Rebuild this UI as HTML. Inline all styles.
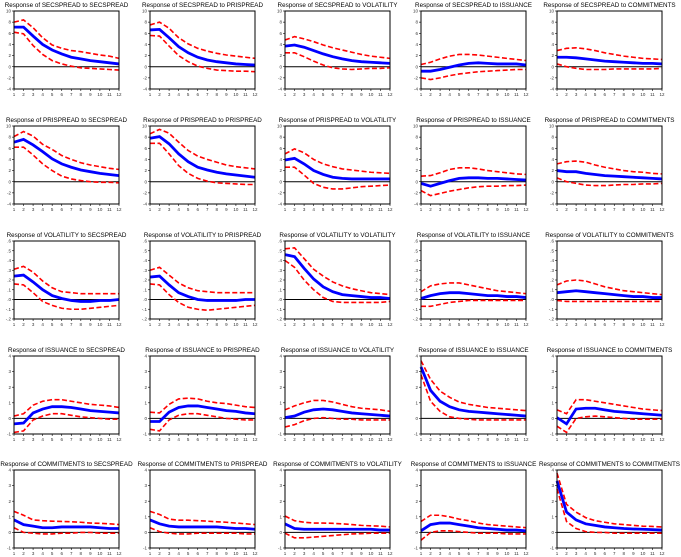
<!DOCTYPE html>
<html><head><meta charset="utf-8"><style>
html,body{margin:0;padding:0;background:#fff;}
svg{display:block;font-family:"Liberation Sans",sans-serif;}
</style></head><body>
<svg id="chart" width="681" height="557" viewBox="0 0 681 557"></svg>
<script>
const varNames = ["SECSPREAD","PRISPREAD","VOLATILITY","ISSUANCE","COMMITMENTS"];
const periods = [1,2,3,4,5,6,7,8,9,10,11,12];
const rowTicks = [
  [-4,-2,0,2,4,6,8,10],
  [-4,-2,0,2,4,6,8,10],
  [-.2,-.1,0,.1,.2,.3,.4,.5,.6],
  [-1,0,1,2,3,4],
  [-1,0,1,2,3,4]
];
const rowTickLabels = [
  ["-4","-2","0","2","4","6","8","10"],
  ["-4","-2","0","2","4","6","8","10"],
  ["-.2","-.1",".0",".1",".2",".3",".4",".5",".6"],
  ["-1","0","1","2","3","4"],
  ["-1","0","1","2","3","4"]
];
const resp = [
 [[7.1,7.1,5.5,4.0,3.0,2.3,1.7,1.4,1.1,0.9,0.7,0.5],[6.6,6.7,5.2,3.6,2.5,1.7,1.2,0.9,0.7,0.5,0.4,0.3],[3.7,3.9,3.5,2.9,2.3,1.8,1.4,1.1,0.9,0.8,0.7,0.6],[-0.8,-0.8,-0.5,-0.1,0.3,0.6,0.7,0.6,0.5,0.5,0.5,0.3],[1.7,1.7,1.6,1.4,1.2,1.0,0.9,0.8,0.7,0.6,0.6,0.5]],
 [[7.1,7.6,6.6,5.4,4.1,3.2,2.6,2.1,1.8,1.5,1.3,1.1],[7.8,8.1,6.8,5.0,3.6,2.6,2.1,1.7,1.4,1.2,1.0,0.8],[3.9,4.2,3.2,2.0,1.3,0.8,0.6,0.5,0.5,0.5,0.5,0.5],[-0.3,-0.8,-0.3,0.2,0.6,0.7,0.7,0.6,0.6,0.5,0.4,0.3],[2.0,1.8,1.8,1.5,1.3,1.1,1.0,0.9,0.8,0.7,0.6,0.5]],
 [[.24,.25,.18,.10,.04,.01,-.01,-.02,-.02,-.01,-.01,0],[.23,.24,.15,.07,.03,.00,-.01,-.01,-.01,-.01,0,0],[.46,.44,.32,.21,.13,.08,.05,.04,.03,.02,.02,.01],[.01,.04,.06,.07,.07,.06,.05,.04,.04,.03,.03,.02],[.07,.08,.09,.08,.07,.06,.05,.04,.03,.03,.02,.02]],
 [[-0.35,-0.3,0.35,0.6,0.75,0.75,0.7,0.6,0.5,0.45,0.4,0.35],[-0.2,-0.2,0.4,0.7,0.8,0.8,0.7,0.6,0.5,0.45,0.35,0.3],[0.05,0.15,0.4,0.55,0.6,0.55,0.45,0.35,0.3,0.25,0.2,0.15],[3.3,1.8,1.1,0.75,0.55,0.45,0.4,0.35,0.3,0.25,0.2,0.15],[0.05,-0.35,0.6,0.65,0.65,0.55,0.45,0.4,0.35,0.3,0.25,0.2]],
 [[0.8,0.5,0.4,0.3,0.3,0.35,0.35,0.35,0.35,0.3,0.25,0.25],[0.8,0.55,0.4,0.35,0.35,0.35,0.35,0.35,0.3,0.25,0.25,0.2],[0.55,0.25,0.2,0.2,0.2,0.2,0.2,0.2,0.2,0.2,0.15,0.15],[0.1,0.5,0.6,0.6,0.5,0.4,0.3,0.25,0.2,0.15,0.15,0.1],[3.3,1.3,0.8,0.55,0.45,0.35,0.3,0.25,0.22,0.2,0.18,0.15]]
];
const upper = [
 [[8.0,8.4,7.0,5.2,3.9,3.3,2.9,2.7,2.4,2.1,1.9,1.5],[7.5,8.0,6.9,5.2,4.1,3.3,2.8,2.4,2.1,1.9,1.7,1.5],[4.8,5.4,5.0,4.5,3.9,3.4,3.0,2.6,2.2,1.9,1.7,1.5],[0.4,0.8,1.4,1.9,2.2,2.2,2.1,1.9,1.7,1.5,1.3,1.1],[2.9,3.3,3.4,3.2,2.9,2.5,2.2,1.9,1.7,1.5,1.4,1.3]],
 [[8.1,9.0,8.2,6.7,5.8,4.7,4.0,3.4,3.0,2.7,2.4,2.2],[8.6,9.4,8.7,7.1,5.6,4.6,4.0,3.5,3.0,2.7,2.5,2.3],[5.0,5.9,5.2,4.0,3.2,2.7,2.3,2.1,1.9,1.7,1.6,1.5],[1.0,1.1,1.6,2.2,2.5,2.5,2.3,2.0,1.8,1.6,1.4,1.3],[3.2,3.6,3.7,3.5,3.0,2.6,2.3,2.0,1.8,1.7,1.5,1.4]],
 [[.31,.34,.28,.19,.12,.08,.07,.06,.06,.06,.06,.06],[.30,.33,.25,.17,.12,.09,.08,.07,.07,.07,.07,.07],[.52,.53,.42,.31,.24,.18,.14,.11,.09,.07,.06,.05],[.08,.14,.16,.17,.17,.15,.13,.11,.09,.08,.07,.06],[.15,.19,.20,.19,.16,.13,.11,.09,.08,.07,.06,.05]],
 [[0.15,0.3,0.85,1.1,1.2,1.2,1.1,1.0,0.9,0.85,0.8,0.7],[0.4,0.35,0.9,1.25,1.3,1.25,1.1,1.0,0.95,0.85,0.75,0.7],[0.55,0.8,1.0,1.15,1.15,1.05,0.9,0.75,0.65,0.6,0.55,0.45],[3.7,2.5,1.75,1.35,1.05,0.9,0.8,0.7,0.65,0.6,0.55,0.5],[0.55,0.3,1.2,1.2,1.1,1.0,0.9,0.8,0.7,0.6,0.55,0.5]],
 [[1.35,1.1,0.8,0.75,0.72,0.7,0.68,0.65,0.6,0.58,0.55,0.5],[1.35,1.15,0.85,0.78,0.78,0.75,0.72,0.68,0.65,0.6,0.55,0.5],[1.05,0.75,0.65,0.6,0.6,0.58,0.55,0.5,0.45,0.42,0.4,0.35],[0.7,1.1,1.1,1.0,0.85,0.75,0.6,0.5,0.45,0.4,0.35,0.3],[3.8,1.8,1.3,0.95,0.75,0.65,0.55,0.5,0.45,0.4,0.38,0.35]]
];
const lower = [
 [[6.2,5.9,3.8,2.2,1.1,0.5,0.1,-0.2,-0.3,-0.4,-0.5,-0.6],[5.6,5.5,3.7,2.0,0.9,0.1,-0.3,-0.6,-0.7,-0.8,-0.8,-0.9],[2.5,2.5,1.8,1.0,0.3,-0.2,-0.4,-0.5,-0.4,-0.3,-0.3,-0.2],[-2.0,-2.3,-2.0,-1.6,-1.3,-1.1,-0.9,-0.8,-0.7,-0.6,-0.5,-0.5],[0.5,0.0,-0.3,-0.5,-0.5,-0.5,-0.4,-0.4,-0.4,-0.4,-0.4,-0.3]],
 [[6.2,6.2,4.8,3.2,2.0,1.0,0.5,0.2,0.0,-0.1,-0.1,-0.2],[6.9,6.9,5.0,2.9,1.5,0.6,0.1,-0.2,-0.3,-0.4,-0.5,-0.5],[2.6,2.6,1.2,-0.3,-1.0,-1.3,-1.3,-1.1,-0.9,-0.8,-0.7,-0.6],[-1.6,-2.5,-2.1,-1.7,-1.4,-1.1,-0.9,-0.8,-0.8,-0.7,-0.7,-0.6],[0.7,0.0,-0.3,-0.6,-0.7,-0.7,-0.6,-0.5,-0.5,-0.4,-0.4,-0.3]],
 [[.16,.15,.07,-.02,-.06,-.09,-.10,-.10,-.09,-.08,-.07,-.06],[.16,.15,.05,-.03,-.08,-.10,-.11,-.10,-.09,-.08,-.07,-.06],[.40,.33,.20,.10,.02,-.02,-.03,-.03,-.03,-.03,-.03,-.02],[-.07,-.07,-.05,-.03,-.02,-.01,-.01,-.01,-.01,-.01,-.01,-.01],[-.01,-.02,-.02,-.02,-.02,-.02,-.02,-.02,-.02,-.02,-.02,-.02]],
 [[-0.9,-0.8,-0.1,0.15,0.3,0.3,0.2,0.1,0.05,0.0,-0.05,-0.05],[-0.7,-0.8,-0.1,0.2,0.3,0.3,0.2,0.1,0.0,-0.05,-0.1,-0.1],[-0.55,-0.4,-0.15,0.0,0.05,0.0,-0.05,-0.05,-0.1,-0.1,-0.1,-0.1],[2.8,1.1,0.45,0.1,0.0,-0.05,-0.1,-0.1,-0.1,-0.1,-0.1,-0.1],[-0.5,-0.9,0.0,0.1,0.15,0.1,0.05,0.0,-0.05,-0.05,-0.05,-0.05]],
 [[0.3,0.0,-0.05,-0.1,-0.1,-0.05,-0.05,0.0,0.0,-0.05,-0.05,-0.05],[0.3,0.05,-0.05,-0.1,-0.1,-0.05,-0.05,-0.05,-0.05,-0.05,-0.1,-0.1],[-0.05,-0.35,-0.35,-0.3,-0.25,-0.2,-0.15,-0.1,-0.08,-0.05,-0.05,-0.05],[-0.5,0.0,0.1,0.1,0.05,0.0,-0.05,-0.05,-0.05,-0.1,-0.1,-0.1],[2.8,0.7,0.25,0.05,0.0,0.0,-0.05,-0.05,-0.05,-0.05,-0.05,-0.05]]
];

const NS = "http://www.w3.org/2000/svg";
const svg = document.getElementById('chart');
const colLeft = [14,150,285,421,557], rowTop = [11,126,241,356,470];
const W = 105, H = 78;
function mk(tag, attrs, parent){ const e=document.createElementNS(NS,tag); for(const k in attrs) e.setAttribute(k,attrs[k]); parent.appendChild(e); return e; }

for(let r=0;r<5;r++){
  const ticks = rowTicks[r], ymin=ticks[0], ymax=ticks[ticks.length-1];
  for(let c=0;c<5;c++){
    const x0=colLeft[c], y0=rowTop[r];
    const xs = p => x0 + (p-1)/(periods.length-1)*W;
    const ys = v => y0 + (ymax-v)/(ymax-ymin)*H;
    const g = mk('g',{},svg);
    
    
    const t = mk('text',{x:x0+W/2,y:y0-4,'text-anchor':'middle','font-size':'6.3'},g);
    t.textContent = 'Response of '+varNames[r]+' to '+varNames[c];
    
    
    ticks.forEach((tv,i)=>{
      const yy=ys(tv);
      const tk=mk('line',{x1:x0-2,x2:x0,y1:yy,y2:yy,stroke:'#000','stroke-width':0.6},g);
      
      
      const tl=mk('text',{x:x0-3,y:yy+1.6,'text-anchor':'end','font-size':'4.5',fill:'#333'},g);
      tl.textContent=rowTickLabels[r][i];
      
      
    });
    periods.forEach(p=>{
      const xx=xs(p);
      const tk=mk('line',{x1:xx,x2:xx,y1:y0+H,y2:y0+H+2,stroke:'#000','stroke-width':0.6},g);
      
      
      const tl=mk('text',{x:xx,y:y0+H+7,'text-anchor':'middle','font-size':'4.5',fill:'#333'},g);
      tl.textContent=String(p);
      
      
    });
    const zl=mk('line',{x1:x0,x2:x0+W,y1:ys(0),y2:ys(0),stroke:'#000','stroke-width':1},g);
    
    
    const pts = arr => arr.map((v,i)=>xs(periods[i]).toFixed(2)+','+ys(v).toFixed(2)).join(' ');
    const hi=mk('polyline',{points:pts(upper[r][c]),fill:'none',stroke:'#f00','stroke-width':1.6,'stroke-dasharray':'5,2.5'},g);
    
    
    const lo=mk('polyline',{points:pts(lower[r][c]),fill:'none',stroke:'#f00','stroke-width':1.6,'stroke-dasharray':'5,2.5'},g);
    
    
    const rl=mk('polyline',{points:pts(resp[r][c]),fill:'none',stroke:'#0000ff','stroke-width':2.8},g);
    
    
    const box=mk('rect',{x:x0,y:y0,width:W,height:H,fill:'none',stroke:'#000','stroke-width':1},g);
    
    
  }
}
</script>
</body></html>
